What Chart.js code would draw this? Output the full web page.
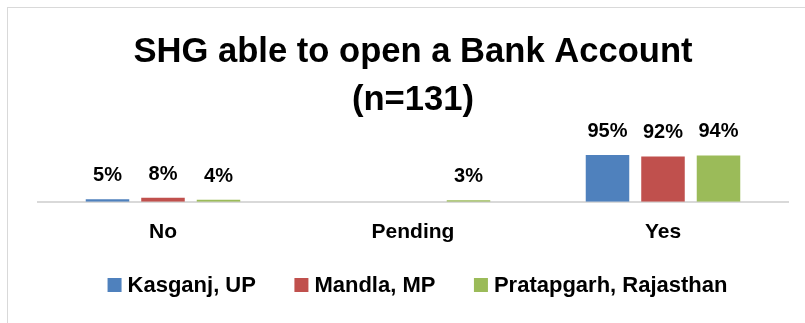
<!DOCTYPE html>
<html>
<head>
<meta charset="utf-8">
<script src="https://cdn.jsdelivr.net/npm/chart.js@4"></script>
<style>
  html, body { margin: 0; padding: 0; background: #fff; overflow: hidden; }
  #wrap { position: relative; width: 805px; height: 323px; }
</style>
</head>
<body>
<div id="wrap"><canvas id="c" width="805" height="323"></canvas></div>
<script>
// Survey responses by district (percent of SHGs)
const categories = ['No', 'Pending', 'Yes'];
const seriesNames = ['Kasganj, UP', 'Mandla, MP', 'Pratapgarh, Rajasthan'];
const kasganj = [5, null, 95];
const mandla = [8, null, 92];
const pratapgarh = [4, 3, 94];
const seriesColors = ['#4F81BD', '#C0504D', '#9BBB59'];
const titleLines = ['SHG able to open a Bank Account', '(n=131)'];

const FONT = '"Liberation Sans", Arial, sans-serif';

// Light frame around the chart
const framePlugin = {
  id: 'frame',
  beforeDraw(chart) {
    const ctx = chart.ctx;
    ctx.save();
    ctx.fillStyle = '#fff';
    ctx.fillRect(0, 0, chart.width, chart.height);
    ctx.strokeStyle = '#D9D9D9';
    ctx.lineWidth = 1;
    ctx.strokeRect(7.5, 7.5, chart.width + 20, chart.height + 20);
    ctx.restore();
  }
};

// Percent labels above each bar
const valueLabels = {
  id: 'valueLabels',
  afterDatasetsDraw(chart) {
    const ctx = chart.ctx;
    ctx.save();
    ctx.font = 'bold 20px ' + FONT;
    ctx.fillStyle = '#000';
    ctx.textAlign = 'center';
    ctx.textBaseline = 'alphabetic';
    chart.data.datasets.forEach((ds, i) => {
      chart.getDatasetMeta(i).data.forEach((bar, j) => {
        const v = ds.data[j];
        if (v === null || v === undefined) return;
        ctx.fillText(v + '%', bar.x, bar.y - 18);
      });
    });
    ctx.restore();
  }
};

// Legend row under the axis: square swatch + bold name
const legendRow = {
  id: 'legendRow',
  afterDraw(chart) {
    const ctx = chart.ctx;
    const box = 14, gap = 6, spacing = 38.5, cy = 285, cx = 417.5;
    ctx.save();
    ctx.font = 'bold 22px ' + FONT;
    const items = chart.data.datasets.map(ds => ({
      label: ds.label, color: ds.backgroundColor, w: ctx.measureText(ds.label).width
    }));
    let total = 0;
    items.forEach((it, k) => { total += box + gap + it.w + (k < items.length - 1 ? spacing : 0); });
    let x = cx - total / 2;
    ctx.textBaseline = 'middle';
    ctx.textAlign = 'left';
    items.forEach(it => {
      ctx.fillStyle = it.color;
      ctx.fillRect(x, cy - box / 2, box, box);
      ctx.fillStyle = '#000';
      ctx.fillText(it.label, x + box + gap, cy + 1);
      x += box + gap + it.w + spacing;
    });
    ctx.restore();
  }
};

const datasets = [kasganj, mandla, pratapgarh].map((values, i) => ({
  label: seriesNames[i],
  data: values,
  backgroundColor: seriesColors[i],
  borderWidth: 0,
  categoryPercentage: 0.666,
  barPercentage: 0.784
}));

new Chart(document.getElementById('c'), {
  type: 'bar',
  data: { labels: categories, datasets },
  plugins: [framePlugin, valueLabels, legendRow],
  options: {
    responsive: false,
    animation: false,
    layout: { padding: { left: 38, right: 17, top: 0, bottom: 60 } },
    plugins: {
      legend: { display: false },
      tooltip: { enabled: false },
      title: {
        display: true,
        text: titleLines,
        color: '#000',
        font: { family: FONT, size: 34.6, weight: 'bold', lineHeight: 1.38 },
        padding: { top: 29, bottom: 28 }
      }
    },
    scales: {
      x: {
        grid: { display: false, drawTicks: false },
        border: { display: true, color: '#D9D9D9', width: 2 },
        ticks: { color: '#000', font: { family: FONT, size: 21, weight: 'bold' }, padding: 18 }
      },
      y: { display: false, min: 0, max: 100 }
    }
  }
});
</script>
</body>
</html>
